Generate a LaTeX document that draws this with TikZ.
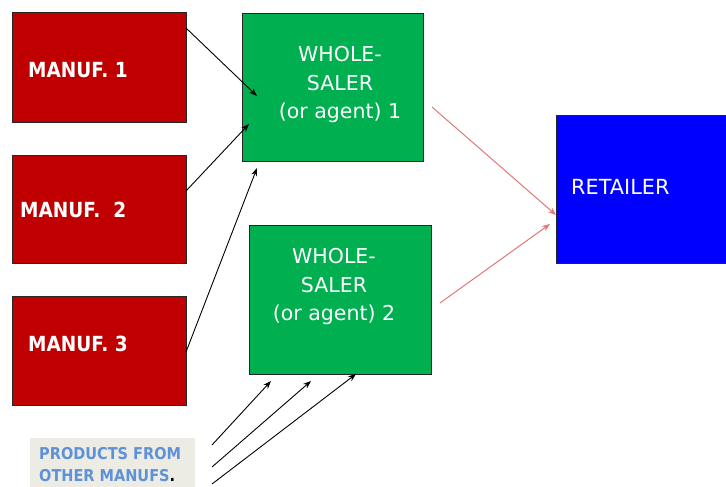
\documentclass[tikz,border=0pt]{standalone}
\usepackage{fontspec}
\setmainfont{DejaVu Sans}
\newfontfamily\bfam[FakeStretch=0.89]{DejaVu Sans}
\usetikzlibrary{arrows.meta}
\definecolor{mred}{HTML}{C00000}
\definecolor{mgreen}{HTML}{00B050}
\definecolor{mblue}{HTML}{0000FF}
\definecolor{pblue}{HTML}{5F91D7}
\definecolor{pbg}{HTML}{EDECE4}
\definecolor{rarrow}{HTML}{E07878}
\begin{document}
\begin{tikzpicture}[x=1pt,y=-1pt,
  box/.style={draw=black!85,line width=0.9pt,inner sep=0pt,outer sep=0pt},
  mbox/.style={box,fill=mred,minimum width=174pt,minimum height=110pt},
  wbox/.style={box,fill=mgreen,minimum width=181pt,minimum height=148pt},
  mtext/.style={text=white,anchor=west,inner sep=0pt,font=\bfam\bfseries\fontsize{20.8}{24}\selectfont},
  wtext/.style={text=white,align=center,inner sep=0pt,font=\fontsize{20.5}{28.5}\selectfont},
  blk/.style={draw=black,line width=0.9pt,-{Stealth[length=8pt,width=6pt]}},
  redarr/.style={draw=rarrow,line width=1pt,-{Stealth[length=8pt,width=6pt]}}]
\useasboundingbox (0,0) rectangle (726,487);
\fill[white] (0,0) rectangle (726,487);
% manufacturers
\node[mbox] (m1) at (99,67) {};
\node[mbox,minimum height=108pt] (m2) at (99,209) {};
\node[mbox,minimum height=109pt] (m3) at (99,350.5) {};
\node[mtext] (t1) at (28,70) {MANUF. 1};
\node[mtext] (t2) at (20,210) {MANUF.\ \ 2};
\node[mtext] (t3) at (28,344) {MANUF. 3};
% wholesalers
\node[wbox] (w1) at (332.5,87) {};
\node[wbox,minimum width=182pt,minimum height=149pt] (w2) at (340,299.5) {};
\node[wtext] (wt1) at (340,85) {WHOLE-\\SALER\\(or agent) 1};
\node[wtext] (wt2) at (334,287) {WHOLE-\\SALER\\(or agent) 2};
% retailer
\node[box,fill=mblue,minimum width=176pt,minimum height=148pt] (r) at (644,189) {};
\node[mtext,font=\fontsize{20.8}{24}\selectfont] (rt) at (571,187) {RETAILER};
% products label
\node[fill=pbg,minimum width=165pt,minimum height=52pt,inner sep=0pt] (pb) at (112.5,464) {};
\node[anchor=west,inner sep=0pt,align=left,text=pblue,font=\bfam\bfseries\fontsize{16.3}{22}\selectfont] (pt) at (39,465) {PRODUCTS FROM\\OTHER MANUFS{\color{black}.}};
% coordinates for arrow ends
\coordinate (a1s) at (186,28);   \coordinate (a1e) at (257,96);
\coordinate (a2s) at (186,191);  \coordinate (a2e) at (249,124);
\coordinate (a3s) at (186,352);  \coordinate (a3e) at (257,168);
\coordinate (p1s) at (212,445);  \coordinate (p1e) at (271,381);
\coordinate (p2s) at (212,467);  \coordinate (p2e) at (311,381);
\coordinate (p3s) at (212,484);  \coordinate (p3e) at (356,374);
\coordinate (r1s) at (432,107);  \coordinate (r1e) at (556,215);
\coordinate (r2s) at (440,303);  \coordinate (r2e) at (550,224);
\draw[blk] (a1s) -- (a1e);
\draw[blk] (a2s) -- (a2e);
\draw[blk] (a3s) -- (a3e);
\draw[blk] (p1s) -- (p1e);
\draw[blk] (p2s) -- (p2e);
\draw[blk] (p3s) -- (p3e);
\draw[redarr] (r1s) -- (r1e);
\draw[redarr] (r2s) -- (r2e);
\end{tikzpicture}
\end{document}
